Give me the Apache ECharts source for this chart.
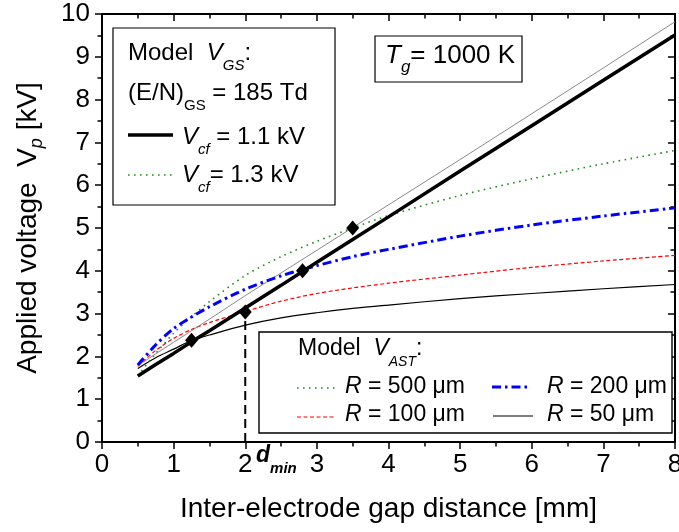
<!DOCTYPE html>
<html>
<head>
<meta charset="utf-8">
<script src="https://cdn.jsdelivr.net/npm/echarts/dist/echarts.min.js"></script>
<style>
html,body{margin:0;padding:0;background:#fff;}
#chart{width:679px;height:532px;}
</style>
</head>
<body>
<div id="chart"></div>
<script>
// ---- data ----
const gapX   = [0.5, 0.75, 1, 1.25, 1.5, 2, 2.5, 3, 3.5, 4, 5, 6, 7, 8];
const vcf11  = [1.54, 1.81, 2.07, 2.34, 2.60, 3.13, 3.66, 4.20, 4.73, 5.26, 6.33, 7.39, 8.45, 9.51];
const vcf13  = [1.78, 2.06, 2.33, 2.60, 2.87, 3.42, 3.95, 4.48, 5.01, 5.54, 6.60, 7.67, 8.74, 9.82];
const r500   = [1.55, 2.07, 2.54, 2.93, 3.28, 3.89, 4.33, 4.69, 5.00, 5.29, 5.76, 6.15, 6.50, 6.81];
const r200   = [1.80, 2.27, 2.65, 2.92, 3.16, 3.57, 3.88, 4.12, 4.33, 4.50, 4.81, 5.07, 5.28, 5.47];
const r100   = [1.77, 2.14, 2.42, 2.63, 2.79, 3.05, 3.29, 3.47, 3.60, 3.71, 3.90, 4.08, 4.23, 4.36];
const r50    = [1.72, 1.97, 2.17, 2.37, 2.50, 2.73, 2.90, 3.02, 3.12, 3.20, 3.35, 3.47, 3.58, 3.68];
const markX  = [1.25, 2.0, 2.8, 3.5];
const markY  = [2.38, 3.04, 4.0, 5.0];
const dminX  = [2, 2];
const dminY  = [0, 3.04];
const xTickLabels = ['0','1','2','3','4','5','6','7','8'];
const yTickLabels = ['0','1','2','3','4','5','6','7','8','9','10'];

const FF = 'Liberation Sans, Arial, Helvetica, sans-serif';
const pair = (xs, ys) => xs.map((x, i) => [x, ys[i]]);

function baseAxis(extra) {
  return Object.assign({
    type: 'value',
    splitLine: { show: false },
    axisLine: { show: true, onZero: false, lineStyle: { color: '#000', width: 2 } },
    axisTick: { show: true, length: 7, lineStyle: { color: '#000', width: 1.5 } },
    minorTick: { show: true, splitNumber: 2, length: 4.5, lineStyle: { color: '#000', width: 1.5 } },
    minorSplitLine: { show: false }
  }, extra);
}

const chart = echarts.init(document.getElementById('chart'), null, { renderer: 'canvas' });

function txt(x, y, text, rich) {
  return {
    type: 'text', x: x, y: y, z: 102,
    style: {
      text: text, rich: rich,
      align: 'left', verticalAlign: 'middle',
      textAlign: 'left', textVerticalAlign: 'middle',
      fill: '#000', font: '24px ' + FF
    }
  };
}
function tok(size, opts) {
  return Object.assign({ fontSize: size, fontFamily: FF, fill: '#000', color: '#000', lineHeight: 40, verticalAlign: 'middle' }, opts || {});
}
function seg(x1, y1, x2, y2, color, width, dash) {
  return {
    type: 'line', z: 102,
    shape: { x1: x1, y1: y1, x2: x2, y2: y2 },
    style: { stroke: color, lineWidth: width, lineDash: dash || null }
  };
}

const option = {
  animation: false,
  backgroundColor: '#fff',
  grid: { left: 102, right: 4, top: 14, bottom: 90, containLabel: false, outerBoundsMode: 'none' },
  xAxis: [
    baseAxis({
      position: 'bottom', min: 0, max: 8, interval: 1,
      axisLabel: { fontSize: 26, color: '#000', fontFamily: FF, margin: 10,
                   formatter: (v) => xTickLabels[Math.round(v)] },
      name: 'Inter-electrode gap distance [mm]',
      nameLocation: 'middle', nameGap: 53,
      nameTextStyle: { fontSize: 28, color: '#000', fontFamily: FF }
    }),
    baseAxis({
      position: 'top', min: 0, max: 8, interval: 1,
      axisLabel: { show: false },
      axisTick: { show: true, inside: true, length: 7, lineStyle: { color: '#000', width: 1.5 } },
      minorTick: { show: true, splitNumber: 2, length: 4.5, lineStyle: { color: '#000', width: 1.5 } }
    })
  ],
  yAxis: [
    baseAxis({
      position: 'left', min: 0, max: 10, interval: 1,
      axisLabel: { fontSize: 26, color: '#000', fontFamily: FF, margin: 12,
                   formatter: (v) => yTickLabels[Math.round(v)] },
      name: '{a|Applied voltage  V}{s|p}{a| [kV]}',
      nameLocation: 'middle', nameGap: 56,
      nameTextStyle: {
        fontSize: 28, color: '#000', fontFamily: FF,
        rich: {
          a: { fontSize: 28, color: '#000', fontFamily: FF, lineHeight: 36, verticalAlign: 'middle' },
          s: { fontSize: 18, color: '#000', fontFamily: FF, fontStyle: 'italic', lineHeight: 18, verticalAlign: 'bottom' }
        }
      }
    }),
    baseAxis({
      position: 'right', min: 0, max: 10, interval: 1,
      axisLabel: { show: false },
      axisTick: { show: true, inside: true, length: 7, lineStyle: { color: '#000', width: 1.5 } },
      minorTick: { show: true, splitNumber: 2, length: 4.5, lineStyle: { color: '#000', width: 1.5 } }
    })
  ],
  series: [
    { name: 'R = 50 µm', type: 'line', data: pair(gapX, r50), showSymbol: false, smooth: 0.3,
      lineStyle: { color: '#000', width: 1.2 }, z: 2 },
    { name: 'R = 100 µm', type: 'line', data: pair(gapX, r100), showSymbol: false, smooth: 0.3,
      lineStyle: { color: '#ff0000', width: 1.2, type: [4, 2.5] }, z: 2 },
    { name: 'R = 500 µm', type: 'line', data: pair(gapX, r500), showSymbol: false, smooth: 0.3,
      lineStyle: { color: '#1e8c1e', width: 1.6, type: [1.6, 4.4] }, z: 2 },
    { name: 'Vcf = 1.3 kV', type: 'line', data: pair(gapX, vcf13), showSymbol: false,
      lineStyle: { color: '#8a8a8a', width: 1 }, z: 3 },
    { name: 'R = 200 µm', type: 'line', data: pair(gapX, r200), showSymbol: false, smooth: 0.3,
      lineStyle: { color: '#0000ff', width: 3, type: [9, 4, 2.5, 4] }, z: 3 },
    { name: 'Vcf = 1.1 kV', type: 'line', data: pair(gapX, vcf11), showSymbol: false,
      lineStyle: { color: '#000', width: 3.5 }, z: 4 },
    { name: 'dmin', type: 'line', data: pair(dminX, dminY), showSymbol: false,
      lineStyle: { color: '#000', width: 2, type: [9, 5] }, z: 4 },
    { name: 'marks', type: 'scatter', data: pair(markX, markY), symbol: 'diamond', symbolSize: [13, 15],
      itemStyle: { color: '#000', opacity: 1 }, z: 5 }
  ],
  graphic: [
    // Box 1: Model V_GS
    { type: 'rect', z: 100, shape: { x: 113, y: 28, width: 222, height: 177 },
      style: { fill: '#fff', stroke: '#000', lineWidth: 1.2 } },
    txt(128, 53, '{n|Model  }{i|V}{s|GS}{n|:}', {
      n: tok(24), i: tok(24, { fontStyle: 'italic' }),
      s: tok(15, { fontStyle: 'italic', lineHeight: 18, verticalAlign: 'bottom' }) }),
    txt(128, 93, '{n|(E/N)}{s|GS}{n| = 185 Td}', {
      n: tok(24), s: tok(15, { lineHeight: 10, verticalAlign: 'bottom' }) }),
    seg(128, 135, 173, 135, '#000', 3.5),
    txt(182, 137, '{i|V}{s|cf}{n| = 1.1 kV}', {
      n: tok(24), i: tok(24, { fontStyle: 'italic' }),
      s: tok(15, { fontStyle: 'italic', lineHeight: 10, verticalAlign: 'bottom' }) }),
    seg(128, 175, 173, 175, '#1e8c1e', 1.6, [1.6, 4.4]),
    txt(182, 175, '{i|V}{s|cf}{n|= 1.3 kV}', {
      n: tok(24), i: tok(24, { fontStyle: 'italic' }),
      s: tok(15, { fontStyle: 'italic', lineHeight: 10, verticalAlign: 'bottom' }) }),

    // Box: T_g
    { type: 'rect', z: 100, shape: { x: 375, y: 36, width: 147, height: 46 },
      style: { fill: '#fff', stroke: '#000', lineWidth: 1.2 } },
    txt(385, 56, '{i|T}{s|g}{n|= 1000 K}', {
      n: tok(26), i: tok(26, { fontStyle: 'italic' }),
      s: tok(17, { fontStyle: 'italic', lineHeight: 16, verticalAlign: 'bottom' }) }),

    // Box 2: Model V_AST
    { type: 'rect', z: 100, shape: { x: 259, y: 332, width: 413, height: 101 },
      style: { fill: '#fff', stroke: '#000', lineWidth: 1.4 } },
    txt(298, 349, '{n|Model  }{i|V}{s|AST}{n|:}', {
      n: tok(23), i: tok(23, { fontStyle: 'italic' }),
      s: tok(14, { fontStyle: 'italic', lineHeight: 18, verticalAlign: 'bottom' }) }),
    seg(297, 388, 336, 388, '#1e8c1e', 1.6, [1.6, 4.4]),
    txt(345, 387, '{i|R}{n| = 500 μm}', { n: tok(23), i: tok(23, { fontStyle: 'italic' }) }),
    seg(297, 417, 336, 417, '#ff0000', 1.2, [4, 2.5]),
    txt(345, 415, '{i|R}{n| = 100 μm}', { n: tok(23), i: tok(23, { fontStyle: 'italic' }) }),
    seg(492, 387, 530, 387, '#0000ff', 3, [9, 4, 2.5, 4]),
    txt(547, 387, '{i|R}{n| = 200 μm}', { n: tok(23), i: tok(23, { fontStyle: 'italic' }) }),
    seg(493, 416, 533, 416, '#000', 1.2),
    txt(547, 415, '{i|R}{n| = 50 μm}', { n: tok(23), i: tok(23, { fontStyle: 'italic' }) }),

    // d_min annotation
    txt(256, 456, '{d|d}{m|min}', {
      d: tok(23, { fontStyle: 'italic', fontWeight: 'bold' }),
      m: tok(15, { fontStyle: 'italic', fontWeight: 'bold', lineHeight: 17, verticalAlign: 'bottom' }) })
  ]
};
chart.setOption(option);
</script>
</body>
</html>
